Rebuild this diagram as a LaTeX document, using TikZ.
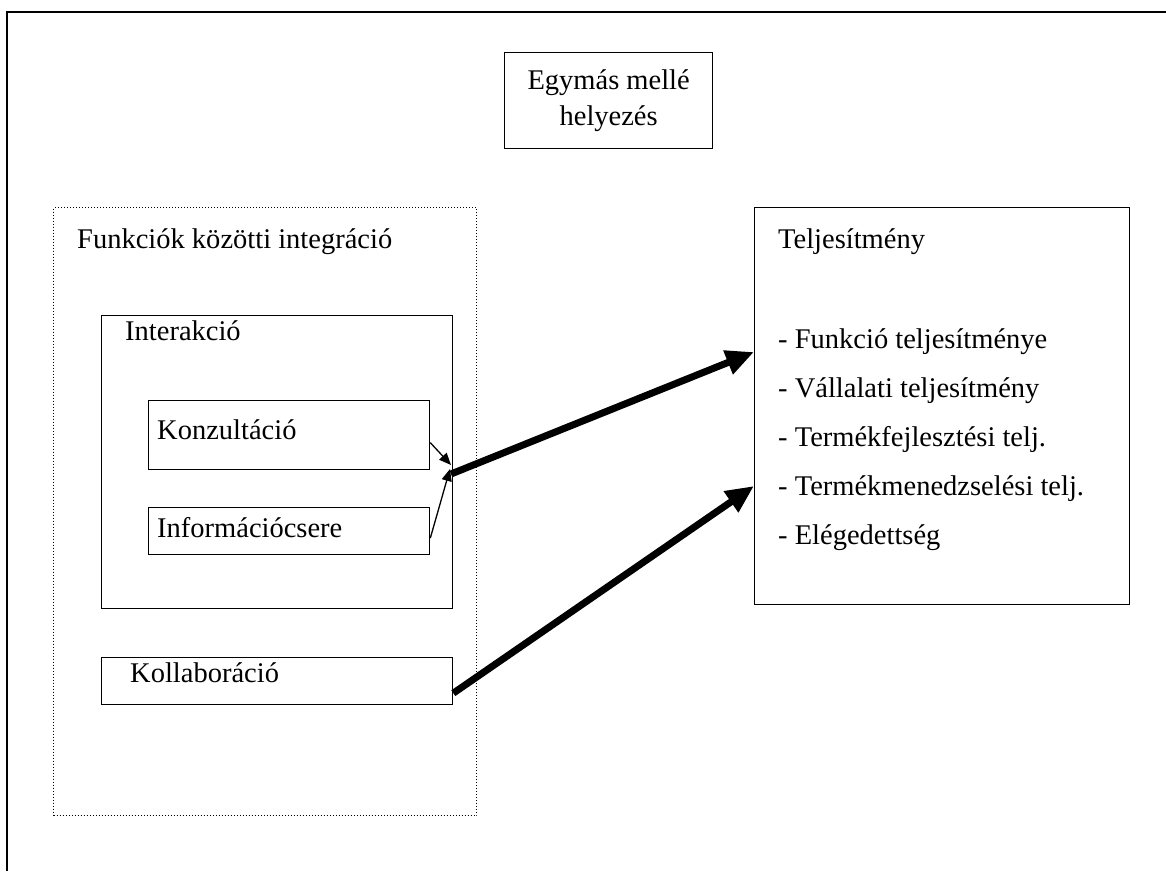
\documentclass[tikz,border=0pt]{standalone}
\usepackage{fontspec}
\setmainfont{Liberation Serif}
\usetikzlibrary{arrows.meta}
\begin{document}
\begin{tikzpicture}[x=1pt,y=-1pt,
  box/.style={draw, line width=1.3pt, inner sep=0pt, anchor=north west},
  dotbox/.style={draw, line width=1pt, dash pattern=on 1pt off 2pt, inner sep=0pt, anchor=north west},
  lbl/.style={anchor=mid west, inner sep=0pt, font=\fontsize{28.5}{34}\selectfont},
  frame/.style={line width=2pt},
  thinarrow/.style={line width=1.3pt, -{Triangle[length=12pt,width=10pt]}},
  thickarrow/.style={line width=7pt, -{Triangle[length=28pt,width=24pt]}}]
\useasboundingbox (0,0) rectangle (1166,871);
% outer frame
\draw[frame] (7,871) -- (7,12) -- (1170,12);
% title box
\node[box, minimum width=208pt, minimum height=96pt] (title) at (504,52) {};
\node[align=center, inner sep=0pt, font=\fontsize{28.5}{36}\selectfont] (titletext) at (title.center) {Egymás mellé\\helyezés};
% dotted integration box
\node[dotbox, minimum width=423pt, minimum height=608pt] (integ) at (53,207) {};
\node[lbl] (integtext) at (77,246) {Funkciók közötti integráció};
% interaction box
\node[box, minimum width=351pt, minimum height=293pt] (inter) at (101,315) {};
\node[lbl] (intertext) at (125,338) {Interakció};
% consultation
\node[box, minimum width=281pt, minimum height=69pt] (konz) at (148,400) {};
\node[lbl] (konztext) at (157,437) {Konzultáció};
% information exchange
\node[box, minimum width=281pt, minimum height=47pt] (info) at (148,507) {};
\node[lbl] (infotext) at (157,535) {Információcsere};
% collaboration
\node[box, minimum width=351pt, minimum height=47pt] (koll) at (101,657) {};
\node[lbl] (kolltext) at (130,680) {Kollaboráció};
% performance box
\node[box, minimum width=375pt, minimum height=397pt] (telj) at (754,207) {};
\node[lbl] (teljtext) at (778,246) {Teljesítmény};
\node[lbl] (p1) at (778,346) {- Funkció teljesítménye};
\node[lbl] (p2) at (778,395) {- Vállalati teljesítmény};
\node[lbl] (p3) at (778,444) {- Termékfejlesztési telj.};
\node[lbl] (p4) at (778,493) {- Termékmenedzselési telj.};
\node[lbl] (p5) at (778,542) {- Elégedettség};
% connectors
\coordinate (j1) at (451,465);
\coordinate (j2) at (450,469);
\coordinate (j3) at (451,474);
\coordinate (t1) at (754,352);
\coordinate (t2) at (754,486);
\draw[thinarrow] ([yshift=-7.5pt]konz.east) -- (j1);
\draw[thinarrow] ([yshift=-7pt]info.east) -- (j2);
\draw[thickarrow] (j3) -- (t1);
\draw[thickarrow] ([yshift=-12pt]koll.east) -- (t2);
\end{tikzpicture}
\end{document}
